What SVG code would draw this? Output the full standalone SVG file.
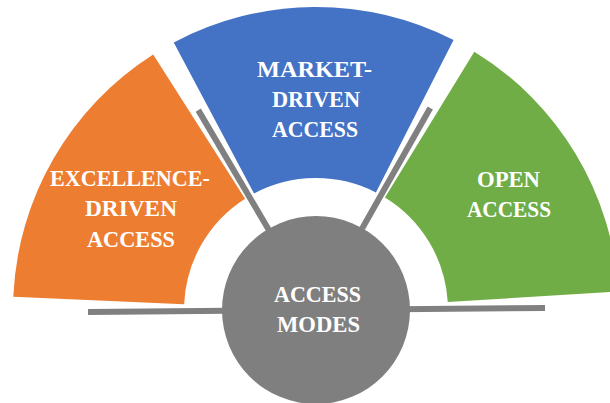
<svg xmlns="http://www.w3.org/2000/svg" width="610" height="403" viewBox="0 0 610 403">
<style>
.lbl{font-family:"Liberation Serif","Times New Roman",serif;font-weight:bold;font-size:24px;fill:#ffffff;text-anchor:middle}
.spoke{stroke:#808080;stroke-width:6;fill:none}
</style>
<rect width="610" height="403" fill="#ffffff"/>
<g transform="rotate(-0.5 316 310)">
<g id="open-access">
<path d="M 618.58 294.14 A 303 303 0 0 0 476.57 53.04 L 385.95 198.06 A 132 132 0 0 1 447.82 303.09 Z" fill="#70AD47"/>
</g>
<g id="market-driven-access">
<path d="M 455.91 41.24 A 303 303 0 0 0 176.09 41.24 L 255.05 192.91 A 132 132 0 0 1 376.95 192.91 Z" fill="#4472C4"/>
</g>
<g id="excellence-driven-access">
<path d="M 155.43 53.04 A 303 303 0 0 0 13.42 294.14 L 184.18 303.09 A 132 132 0 0 1 246.05 198.06 Z" fill="#ED7D31"/>
</g>
<g id="connectors">
<line class="spoke" x1="432" y1="109.1" x2="361" y2="232.1"/>
<line class="spoke" x1="200" y1="109.1" x2="271" y2="232.1"/>
<line class="spoke" x1="88" y1="310" x2="545" y2="310"/>
</g>
</g>
<g id="access-modes">
<circle cx="316" cy="310" r="94" fill="#7F7F7F"/>
<text class="lbl" x="317.5" y="302" textLength="87" lengthAdjust="spacingAndGlyphs">ACCESS</text>
<text class="lbl" x="318.5" y="332" textLength="83" lengthAdjust="spacingAndGlyphs">MODES</text>
</g>
<g id="excellence-driven-label">
<text class="lbl" x="130" y="186" textLength="160" lengthAdjust="spacingAndGlyphs">EXCELLENCE-</text>
<text class="lbl" x="131" y="216" textLength="92" lengthAdjust="spacingAndGlyphs">DRIVEN</text>
<text class="lbl" x="131" y="247" textLength="88" lengthAdjust="spacingAndGlyphs">ACCESS</text>
</g>
<g id="market-driven-label">
<text class="lbl" x="314.5" y="77" textLength="115" lengthAdjust="spacingAndGlyphs">MARKET-</text>
<text class="lbl" x="316" y="107" textLength="88" lengthAdjust="spacingAndGlyphs">DRIVEN</text>
<text class="lbl" x="315" y="137" textLength="86" lengthAdjust="spacingAndGlyphs">ACCESS</text>
</g>
<g id="open-access-label">
<text class="lbl" x="508.5" y="187" textLength="63" lengthAdjust="spacingAndGlyphs">OPEN</text>
<text class="lbl" x="509" y="217" textLength="84" lengthAdjust="spacingAndGlyphs">ACCESS</text>
</g>
</svg>
